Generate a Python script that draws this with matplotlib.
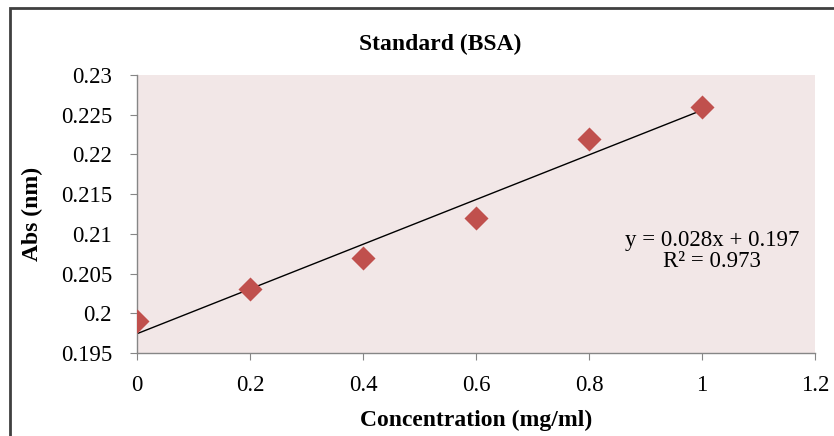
import matplotlib
matplotlib.use("Agg")
import matplotlib.pyplot as plt
import numpy as np
from matplotlib.patches import Rectangle

conc = [0.0, 0.2, 0.4, 0.6, 0.8, 1.0]
absorb = [0.199, 0.203, 0.207, 0.212, 0.222, 0.226]
xticks = [0, 0.2, 0.4, 0.6, 0.8, 1.0, 1.2]
xticklabels = ["0", "0.2", "0.4", "0.6", "0.8", "1", "1.2"]
yticks = [0.195, 0.2, 0.205, 0.21, 0.215, 0.22, 0.225, 0.23]
yticklabels = ["0.195", "0.2", "0.205", "0.21", "0.215", "0.22", "0.225", "0.23"]

plt.rcParams['font.family'] = ['Liberation Serif', 'DejaVu Serif']

fig = plt.figure(figsize=(8.34, 4.36), dpi=100)
fig.patch.set_facecolor("white")
# outer chart border (cropped at right/bottom)
fig.add_artist(Rectangle((10/834, -0.1), 1.2, 1 - 8/436 + 0.1, transform=fig.transFigure,
                         fill=False, edgecolor="#404040", linewidth=2.0))

ax = fig.add_axes([137/834, 1 - 353/436, (815 - 137)/834, (353 - 75)/436])
ax.set_facecolor("#F2E7E7")

ax.scatter(conc, absorb, marker="D", s=150, color="#C0504D", zorder=3, linewidths=0)
slope, intercept = np.polyfit(conc, absorb, 1)
xl = np.array([min(conc), max(conc)])
ax.plot(xl, slope * xl + intercept, color="black", linewidth=1.0, zorder=2)

ax.set_xlim(0, 1.2)
ax.set_ylim(0.195, 0.23)
ax.set_xticks(xticks)
ax.set_xticklabels(xticklabels)
ax.set_yticks(yticks)
ax.set_yticklabels(yticklabels)
ax.tick_params(axis="both", labelsize=16.5, color="#868686", length=5, direction="out")
ax.tick_params(axis="x", pad=11)
ax.tick_params(axis="y", pad=13)
for s in ["top", "right"]:
    ax.spines[s].set_visible(False)
for s in ["left", "bottom"]:
    ax.spines[s].set_color("#868686")
    ax.spines[s].set_linewidth(1.0)

ax.set_xlabel("Concentration (mg/ml)", fontsize=17, fontweight="bold", labelpad=10)
ax.set_ylabel("Abs (nm)", fontsize=17, fontweight="bold", labelpad=13)
fig.text(440/834, 1 - 44/436, "Standard (BSA)", fontsize=17, fontweight="bold",
         ha="center", va="center")

ax.text((712 - 137) / (815 - 137), (353 - 251) / (353 - 75), "y = 0.028x + 0.197\nR² = 0.973",
        transform=ax.transAxes, fontsize=16.5, ha="center", va="center", linespacing=1.0)

fig.savefig("out.png", dpi=100)
